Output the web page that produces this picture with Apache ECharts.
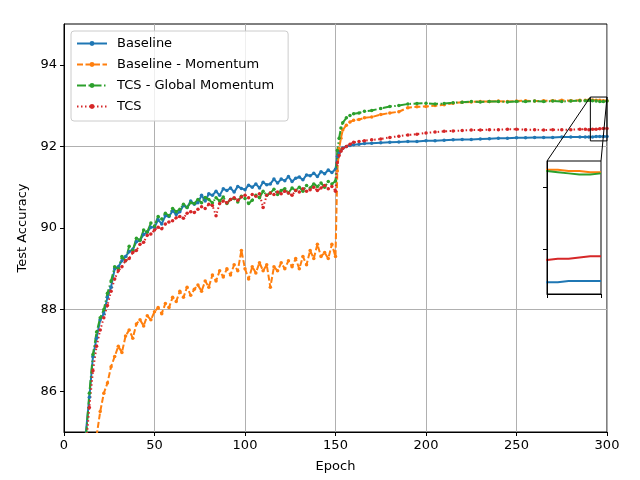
<!DOCTYPE html>
<html>
<head>
<meta charset="utf-8">
<script src="https://cdn.jsdelivr.net/npm/echarts@6/dist/echarts.min.js"></script>
<style>
  html, body { margin: 0; padding: 0; background: #fff; }
  #chart { width: 640px; height: 480px; }
</style>
</head>
<body>
<div id="chart"></div>
<script>
// epochs sampled from the curves (every 2 epochs before the LR drop, sparser after)
const epochs = [
  10, 12, 14, 16, 18, 20, 22, 24, 26, 28, 30, 32, 34, 36, 38, 40, 42, 44, 46, 48,
  50, 52, 54, 56, 58, 60, 62, 64, 66, 68, 70, 72, 74, 76, 78, 80, 82, 84, 86, 88,
  90, 92, 94, 96, 98, 100, 102, 104, 106, 108, 110, 112, 114, 116, 118, 120, 122, 124, 126, 128,
  130, 132, 134, 136, 138, 140, 142, 144, 146, 148, 150,
  151, 152, 153, 154, 156, 158, 160, 163, 166, 170, 175, 180, 185, 190, 195, 200, 205, 210, 215, 220,
  225, 230, 235, 240, 245, 250, 255, 260, 265, 270, 275, 280, 285, 288, 290, 292, 294, 296, 298, 300
];

const baseline = [
  83.6, 84.95, 85.85, 86.85, 87.3, 87.75, 87.9, 88.3, 88.55, 89.0, 89.05, 89.2, 89.3, 89.42, 89.48, 89.66, 89.7, 89.84, 89.9, 90.02,
  90.02, 90.2, 90.1, 90.3, 90.28, 90.42, 90.33, 90.4, 90.55, 90.5, 90.66, 90.58, 90.62, 90.8, 90.66, 90.84, 90.8, 90.9, 90.8, 90.96,
  90.92, 90.98, 90.88, 91.02, 90.97, 90.94, 91.05, 91.0, 91.08, 90.98, 91.12, 91.06, 91.08, 91.2, 91.1, 91.2, 91.16, 91.26, 91.14, 91.22,
  91.25, 91.18, 91.3, 91.28, 91.34, 91.26, 91.38, 91.33, 91.42, 91.36, 91.44,
  91.75, 91.85, 91.92, 91.96, 92.0, 92.02, 92.04, 92.05, 92.07, 92.08, 92.09, 92.1, 92.11, 92.12, 92.12, 92.14, 92.14, 92.15, 92.16, 92.17,
  92.17, 92.18, 92.19, 92.2, 92.2, 92.21, 92.21, 92.22, 92.22, 92.22, 92.23, 92.23, 92.23, 92.23, 92.23, 92.23, 92.24, 92.24, 92.24, 92.24
];

const baselineMomentum = [
  82.0, 82.8, 83.6, 84.3, 84.9, 85.5, 85.95, 86.2, 86.6, 86.85, 87.1, 86.95, 87.35, 87.5, 87.3, 87.65, 87.75, 87.6, 87.85, 87.75,
  87.95, 88.05, 87.9, 88.15, 88.05, 88.3, 88.2, 88.45, 88.3, 88.55, 88.35, 88.5, 88.6, 88.45, 88.7, 88.55, 88.85, 88.7, 88.95, 88.8,
  89.0, 88.85, 89.1, 88.95, 89.45, 89.0, 88.75, 89.05, 88.9, 89.15, 88.95, 89.1, 88.55, 89.05, 88.95, 89.15, 89.0, 89.2, 89.05, 89.25,
  89.0, 89.3, 89.1, 89.45, 89.25, 89.6, 89.3, 89.4, 89.25, 89.6, 89.3,
  91.4, 91.95, 92.2, 92.4, 92.52, 92.6, 92.64, 92.66, 92.7, 92.72, 92.78, 92.82, 92.85, 92.95, 92.97, 92.98, 93.0, 93.02, 93.06, 93.08,
  93.09, 93.1, 93.1, 93.11, 93.1, 93.11, 93.12, 93.11, 93.12, 93.12, 93.13, 93.12, 93.13, 93.13, 93.14, 93.14, 93.13, 93.13, 93.12, 93.12
];

const tcsGlobal = [
  83.4, 84.8, 85.95, 86.9, 87.45, 87.8, 88.0, 88.4, 88.7, 89.05, 89.0, 89.3, 89.2, 89.55, 89.45, 89.75, 89.7, 89.95, 89.9, 90.12,
  90.05, 90.28, 90.22, 90.36, 90.3, 90.48, 90.4, 90.46, 90.58, 90.5, 90.62, 90.6, 90.7, 90.62, 90.75, 90.7, 90.62, 90.74, 90.66, 90.76,
  90.6, 90.7, 90.72, 90.64, 90.78, 90.72, 90.6, 90.68, 90.8, 90.74, 90.9, 90.8, 90.86, 90.95, 90.82, 90.92, 90.96, 90.86, 90.98, 90.92,
  91.0, 90.9, 91.04, 90.98, 91.08, 91.02, 91.1, 91.0, 91.14, 91.08, 91.15,
  91.9, 92.2, 92.45, 92.58, 92.7, 92.76, 92.8, 92.82, 92.86, 92.88, 92.93, 92.98, 93.0, 93.04, 93.05, 93.06, 93.04, 93.05, 93.07, 93.08,
  93.1, 93.09, 93.1, 93.1, 93.09, 93.1, 93.1, 93.11, 93.1, 93.11, 93.1, 93.11, 93.12, 93.12, 93.13, 93.12, 93.11, 93.1, 93.1, 93.11
];

const tcs = [
  83.3, 84.6, 85.6, 86.5, 87.1, 87.5, 87.8, 88.1, 88.45, 88.75, 88.95, 89.05, 89.2, 89.25, 89.4, 89.45, 89.6, 89.65, 89.82, 89.85,
  89.95, 90.02, 89.98, 90.1, 90.15, 90.18, 90.25, 90.28, 90.24, 90.36, 90.4, 90.38, 90.46, 90.52, 90.48, 90.58, 90.55, 90.3, 90.6, 90.66,
  90.62, 90.7, 90.74, 90.68, 90.76, 90.8, 90.74, 90.82, 90.78, 90.84, 90.5, 90.8, 90.86, 90.82, 90.88, 90.84, 90.9, 90.86, 90.8, 90.92,
  90.88, 90.96, 90.9, 90.94, 91.0, 90.92, 90.98, 91.04, 90.96, 91.02, 90.9,
  91.6, 91.78, 91.88, 91.95, 92.0, 92.05, 92.1, 92.12, 92.14, 92.16, 92.18, 92.22, 92.25, 92.28, 92.3, 92.33, 92.35, 92.37, 92.38, 92.39,
  92.4, 92.4, 92.41, 92.41, 92.42, 92.42, 92.41, 92.41, 92.4, 92.41, 92.41, 92.41, 92.42, 92.42, 92.41, 92.42, 92.42, 92.43, 92.44, 92.44
];

const seriesNames = ['Baseline', 'Baseline - Momentum', 'TCS - Global Momentum', 'TCS'];
const seriesColors = ['#1f77b4', '#ff7f0e', '#2ca02c', '#d62728'];
const seriesDash = ['solid', [6, 2.5], [9, 2.5, 1.5, 2.5], [1.5, 2.5]];
const seriesValues = [baseline, baselineMomentum, tcsGlobal, tcs];

const yTicks = [86, 88, 90, 92, 94];
// zoomed window shown in the inset
const zoomX = [290.8, 300];
const zoomY = [92.135, 93.21];
const insetYTicks = [92.5, 93];

const font = 'DejaVu Sans, sans-serif';
const chart = echarts.init(document.getElementById('chart'));

const toPairs = vals => vals.map((v, i) => [epochs[i], v]);

const mainSeries = seriesValues.map((vals, k) => ({
  name: seriesNames[k],
  type: 'line',
  xAxisIndex: 0,
  yAxisIndex: 0,
  data: toPairs(vals),
  color: seriesColors[k],
  symbol: 'circle',
  symbolSize: 3.5,
  showSymbol: true,
  lineStyle: { width: 2, type: seriesDash[k] },
  itemStyle: { color: seriesColors[k] },
  animation: false,
  emphasis: { disabled: true },
  clip: true
}));

const insetSeries = seriesValues.map((vals, k) => ({
  name: seriesNames[k],
  type: 'line',
  xAxisIndex: 1,
  yAxisIndex: 1,
  data: toPairs(vals),
  color: seriesColors[k],
  showSymbol: false,
  symbol: 'none',
  lineStyle: { width: 2, color: seriesColors[k] },
  animation: false,
  emphasis: { disabled: true },
  clip: true,
  z: 20
}));

const option = {
  animation: false,
  backgroundColor: '#fff',
  textStyle: { fontFamily: font },
  legend: {
    data: seriesNames,
    orient: 'vertical',
    left: 71,
    top: 31,
    padding: [5, 14, 7, 5],
    itemGap: 6,
    itemWidth: 30,
    itemHeight: 6,
    borderColor: '#cccccc',
    borderWidth: 1,
    borderRadius: 3,
    backgroundColor: 'rgba(255,255,255,0.8)',
    textStyle: { fontSize: 13, lineHeight: 15, color: '#000', fontFamily: font, padding: [0, 0, 0, 5] }
  },
  grid: [
    { left: 64, right: 33, top: 24, bottom: 48, show: true, borderColor: '#000', borderWidth: 1, backgroundColor: 'transparent' },
    { left: 547, top: 161, width: 54, height: 133, show: true, borderColor: '#000', borderWidth: 1, backgroundColor: '#fff', z: 10 }
  ],
  xAxis: [
    {
      type: 'value', gridIndex: 0, min: 0, max: 300, interval: 50,
      name: 'Epoch', nameLocation: 'middle', nameGap: 28,
      nameTextStyle: { fontSize: 13, color: '#000', fontFamily: font },
      axisLine: { show: true, onZero: false, lineStyle: { color: '#000', width: 1 } },
      axisTick: { show: true, inside: false, length: 4, lineStyle: { color: '#000' } },
      axisLabel: { fontSize: 13, color: '#000', margin: 7, fontFamily: font },
      splitLine: { show: true, lineStyle: { color: '#b0b0b0', width: 1 } }
    },
    {
      type: 'value', gridIndex: 1, min: 290, max: 300, interval: 10,
      axisLine: { show: true, onZero: false, lineStyle: { color: '#000' } },
      axisTick: { show: true, length: 4, lineStyle: { color: '#000' } },
      axisLabel: { show: false },
      splitLine: { show: false },
      z: 21
    }
  ],
  yAxis: [
    {
      type: 'value', gridIndex: 0, min: 85, max: 95, interval: 1,
      name: 'Test Accuracy', nameLocation: 'middle', nameGap: 35,
      nameTextStyle: { fontSize: 13, color: '#000', fontFamily: font },
      axisLine: { show: true, onZero: false, lineStyle: { color: '#000', width: 1 } },
      axisTick: { show: true, length: 4, customValues: yTicks, lineStyle: { color: '#000' } },
      axisLabel: {
        fontSize: 13, color: '#000', margin: 7, fontFamily: font,
        customValues: yTicks,
        formatter: v => (yTicks.indexOf(v) >= 0 ? String(v) : '')
      },
      // grid lines only on even values: alternate transparent / grey
      splitLine: { show: true, lineStyle: { color: ['rgba(0,0,0,0)', '#b0b0b0'], width: 1 } }
    },
    {
      type: 'value', gridIndex: 1, min: zoomY[0], max: zoomY[1],
      axisLine: { show: true, onZero: false, lineStyle: { color: '#000' } },
      axisTick: { show: true, length: 4, customValues: insetYTicks, lineStyle: { color: '#000' } },
      axisLabel: { show: false },
      splitLine: { show: false },
      z: 21
    }
  ],
  series: mainSeries.concat(insetSeries)
};

chart.setOption(option);

// zoom rectangle on the main axes and the two connector lines to the inset
const rTL = chart.convertToPixel({ gridIndex: 0 }, [zoomX[0], zoomY[1]]);
const rBR = chart.convertToPixel({ gridIndex: 0 }, [zoomX[1], zoomY[0]]);
const iTL = chart.convertToPixel({ gridIndex: 1 }, [290, zoomY[1]]);
const iTR = chart.convertToPixel({ gridIndex: 1 }, [300, zoomY[1]]);

chart.setOption({
  graphic: [
    {
      type: 'rect', z: 100, silent: true,
      shape: { x: rTL[0], y: rTL[1], width: rBR[0] - rTL[0], height: rBR[1] - rTL[1] },
      style: { fill: 'none', stroke: '#000', lineWidth: 1 }
    },
    {
      type: 'line', z: 100, silent: true,
      shape: { x1: iTL[0], y1: iTL[1], x2: rTL[0], y2: rTL[1] },
      style: { stroke: '#000', lineWidth: 1 }
    },
    {
      type: 'line', z: 100, silent: true,
      shape: { x1: iTR[0], y1: iTR[1], x2: rBR[0], y2: rTL[1] },
      style: { stroke: '#000', lineWidth: 1 }
    }
  ]
});

window.addEventListener('resize', () => chart.resize());
</script>
</body>
</html>
